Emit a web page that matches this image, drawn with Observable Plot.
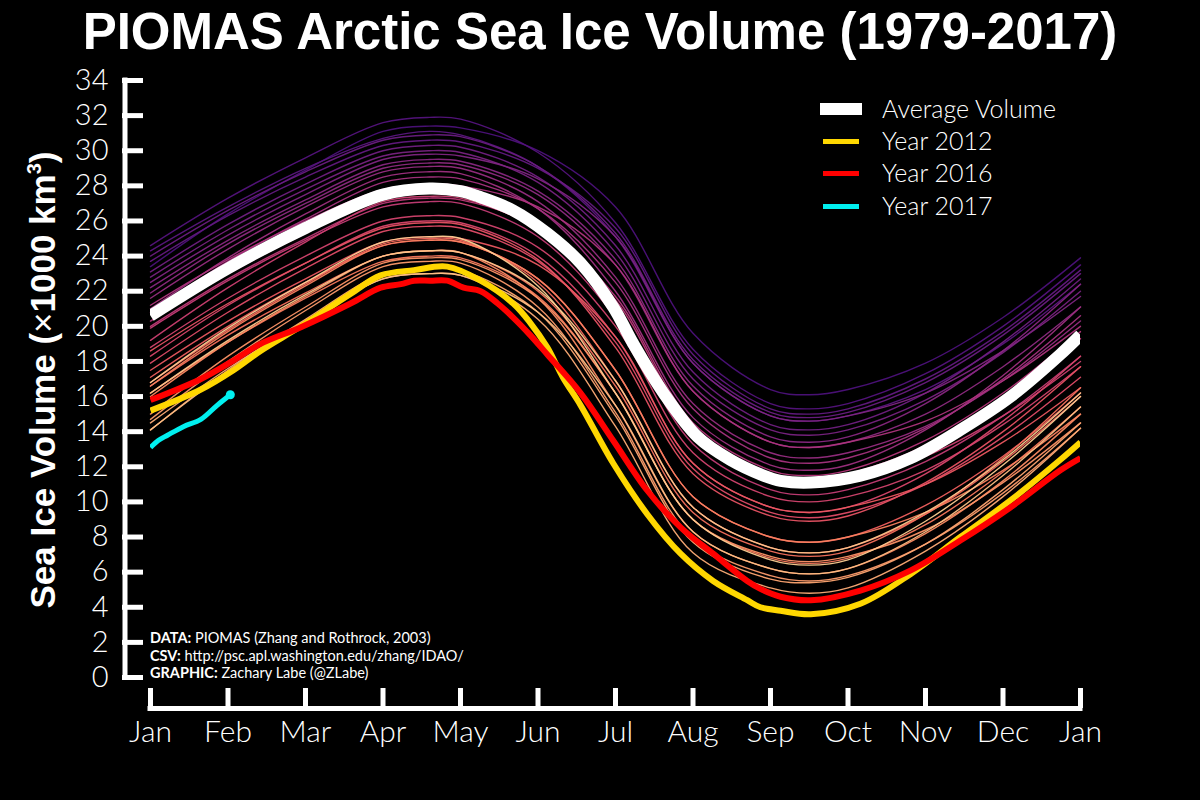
<!DOCTYPE html>
<html>
<head>
<meta charset="utf-8">
<script src="https://cdn.jsdelivr.net/npm/d3@7"></script>
<script src="https://cdn.jsdelivr.net/npm/@observablehq/plot@0.6"></script>
<style>
  html, body { margin: 0; padding: 0; background: #000; }
  #wrap { position: relative; width: 1200px; height: 800px; background: #000; overflow: hidden; color: #fff; font-family: Lato, "Open Sans", sans-serif; }
  #chart { position: absolute; left: 0; top: 0; }
  #title { position: absolute; left: 0; top: 12px; width: 1200px; text-align: center; font-family: "Liberation Sans", Arial, sans-serif; font-weight: bold; font-size: 51px; line-height: 40px; white-space: nowrap; }
  #ylabel { position: absolute; left: 42px; top: 380px; transform: translate(-50%, -50%) rotate(-90deg); font-family: "Liberation Sans", Arial, sans-serif; font-weight: bold; font-size: 35px; line-height: 35px; white-space: nowrap; }
  #ylabel .x { font-weight: normal; }
  .leg { position: absolute; left: 0; top: 0; font-size: 25px; font-weight: 300; white-space: nowrap; }
  .sw { position: absolute; }
  .lt { position: absolute; left: 882px; line-height: 25px; }
  #credits { position: absolute; left: 150px; top: 629px; font-size: 14.5px; line-height: 17.5px; white-space: nowrap; }
  #credits b { font-weight: 700; }
</style>
</head>
<body>
<div id="wrap">
  <div id="chart"></div>
  <div id="title"></div>
  <div id="ylabel"></div>
  <div id="legend"></div>
  <div id="credits"></div>
</div>
<script>
// ---------------- DATA ----------------
const titleText = "PIOMAS Arctic Sea Ice Volume (1979-2017)";
const monthLabels = ["Jan","Feb","Mar","Apr","May","Jun","Jul","Aug","Sep","Oct","Nov","Dec","Jan"];
const monthTicks = [0,1,2,3,4,5,6,7,8,9,10,11,12];
const yTicks = [0,2,4,6,8,10,12,14,16,18,20,22,24,26,28,30,32,34];

// months since Jan 1 at which the yearly values are read
const knotMonths = [0,1,2,3,3.6,4,5,6,7,8,8.5,9,10,11,12];

const y1979 = [23.4,26.4,28.9,31.1,31.4,31.3,30.0,26.8,19.6,16.4,16.1,16.4,17.9,20.5,23.9];
const y1980 = [24.6,27.3,29.6,31.6,31.9,31.8,29.9,25.9,18.7,15.6,15.3,15.6,17.3,20.0,23.5];
const y1981 = [24.3,26.8,29.0,30.7,31.1,30.9,29.1,25.1,17.9,14.9,14.6,14.9,16.4,19.0,22.4];
const y1982 = [23.7,26.3,28.5,30.3,30.6,30.5,29.0,25.6,18.4,15.3,15.0,15.3,17.0,19.7,23.2];
const y1983 = [24.0,26.6,28.8,30.6,30.9,30.8,29.1,25.3,18.1,15.1,14.8,15.1,16.8,19.5,23.0];
const y1984 = [23.1,25.8,28.1,30.0,30.3,30.2,28.5,24.6,17.4,14.4,14.1,14.4,16.2,19.1,22.7];
const y1985 = [22.8,25.5,27.8,29.7,30.0,29.9,28.2,24.2,17.0,14.1,13.8,14.1,15.8,18.5,22.0];
const y1986 = [22.5,25.2,27.5,29.5,29.8,29.7,28.4,25.1,17.9,14.9,14.6,14.9,16.2,18.6,21.7];
const y1987 = [22.2,24.9,27.2,29.2,29.5,29.4,27.7,23.8,16.6,13.7,13.4,13.7,15.6,18.6,22.4];
const y1988 = [21.9,24.7,27.0,29.0,29.3,29.2,27.5,23.5,16.3,13.4,13.1,13.4,15.0,17.7,21.1];
const y1989 = [21.6,24.4,26.8,28.8,29.1,29.0,27.1,22.8,15.6,12.8,12.5,12.8,14.3,16.9,20.3];
const y1990 = [21.0,23.9,26.4,28.5,28.8,28.7,26.7,22.0,14.8,12.1,11.8,12.1,14.1,17.2,21.1];
const y1991 = [20.8,23.7,26.1,28.2,28.5,28.4,26.7,22.5,15.3,12.5,12.2,12.5,14.2,17.0,20.6];
const y1992 = [21.2,23.8,26.0,27.8,28.1,28.0,26.8,23.5,16.3,13.4,13.1,13.4,14.6,16.9,20.0];
const y1993 = [20.3,23.0,25.3,27.3,27.6,27.5,25.8,21.7,14.5,11.8,11.5,11.8,13.5,16.2,19.7];
const y1994 = [20.0,22.7,25.0,27.0,27.3,27.2,25.6,21.5,14.3,11.6,11.3,11.6,13.2,15.9,19.3];
const y1995 = [19.9,22.6,24.9,26.8,27.1,27.0,25.1,20.5,13.3,10.7,10.4,10.7,12.3,14.9,18.3];
const y1996 = [19.2,22.2,24.8,27.1,27.4,27.3,25.5,21.1,13.9,11.3,11.0,11.3,12.6,14.9,18.0];
const y1997 = [18.8,21.6,24.0,26.0,26.3,26.2,24.5,20.0,12.8,10.3,10.0,10.3,11.8,14.4,17.7];
const y1998 = [18.3,21.2,23.6,25.7,26.0,25.9,24.0,19.4,12.2,9.7,9.4,9.7,11.6,14.6,18.3];
const y1999 = [17.9,20.8,23.3,25.4,25.7,25.6,23.7,19.1,11.9,9.4,9.1,9.4,11.0,13.7,17.1];
const y2000 = [18.6,21.3,23.6,25.6,25.9,25.8,23.8,18.8,11.6,9.2,8.9,9.2,11.1,14.0,17.7];
const y2001 = [17.5,20.3,22.7,24.8,25.1,25.0,23.5,19.4,12.2,9.7,9.4,9.7,11.0,13.4,16.5];
const y2002 = [17.1,20.0,22.5,24.6,24.9,24.8,22.7,17.5,10.3,8.0,7.7,8.0,9.8,12.6,16.2];
const y2003 = [16.8,19.8,22.4,24.7,25.0,24.9,22.5,16.9,9.7,7.4,7.1,7.4,9.3,12.3,16.0];
const y2004 = [16.6,19.5,21.9,24.0,24.3,24.2,22.0,16.6,9.4,7.2,6.9,7.2,9.3,12.5,16.5];
const y2005 = [16.2,19.1,21.6,23.7,24.0,23.9,21.7,16.2,9.0,6.8,6.5,6.8,8.7,11.7,15.4];
const y2006 = [16.6,19.7,22.3,24.6,24.9,24.8,22.7,17.5,10.3,8.0,7.7,8.0,9.4,11.8,15.0];
const y2007 = [16.0,19.1,21.7,24.0,24.3,24.2,21.6,15.5,8.3,6.2,5.9,6.2,8.2,11.2,15.0];
const y2008 = [15.0,18.3,21.1,23.6,23.9,23.8,21.6,16.2,9.0,6.9,6.6,6.9,8.4,11.1,14.5];
const y2009 = [14.7,18.0,20.9,23.4,23.7,23.6,21.1,15.1,7.9,5.8,5.5,5.8,7.6,10.5,14.2];
const y2010 = [14.1,17.5,20.4,23.0,23.3,23.2,20.8,14.9,7.7,5.6,5.4,5.7,7.6,10.7,14.5];
const y2011 = [14.5,17.6,20.3,22.7,23.0,22.9,20.4,14.3,7.1,5.1,4.8,5.1,7.2,10.3,14.2];
const y2013 = [14.1,17.4,20.2,22.7,23.0,22.9,20.8,15.5,8.3,6.2,5.9,6.2,8.3,11.5,15.4];
const y2014 = [16.2,19.2,21.8,24.0,24.3,24.2,22.1,16.9,9.7,7.4,7.1,7.4,9.4,12.4,16.2];
const y2015 = [16.8,19.9,22.5,24.8,25.1,25.0,22.3,16.2,9.0,6.7,6.4,6.7,8.9,12.1,16.0];

const thinSeries = [
  [1979,y1979],[1980,y1980],[1981,y1981],[1982,y1982],[1983,y1983],[1984,y1984],
  [1985,y1985],[1986,y1986],[1987,y1987],[1988,y1988],[1989,y1989],[1990,y1990],
  [1991,y1991],[1992,y1992],[1993,y1993],[1994,y1994],[1995,y1995],[1996,y1996],
  [1997,y1997],[1998,y1998],[1999,y1999],[2000,y2000],[2001,y2001],[2002,y2002],
  [2003,y2003],[2004,y2004],[2005,y2005],[2006,y2006],[2007,y2007],[2008,y2008],
  [2009,y2009],[2010,y2010],[2011,y2011],[2013,y2013],[2014,y2014],[2015,y2015]
];

// Average volume
const avgMonths = [0,1,2,3,3.6,4,4.26,4.68,5.12,5.55,5.97,6.23,6.62,7.06,7.48,7.91,8.13,8.52,9.16,9.81,10.45,11.1,11.74,12];
const avgValues = [20.6,23.3,25.6,27.5,27.85,27.7,27.35,26.6,25.3,23.6,21.1,19.0,16.2,13.7,12.4,11.5,11.2,11.1,11.5,12.5,14.1,16.0,18.4,19.5];

// Year 2012
const m2012 = [0,0.65,1.07,1.42,1.94,2.58,2.97,3.4,3.83,4.26,4.68,4.9,5.12,5.32,5.55,5.97,6.41,6.84,7.26,7.7,7.87,8.13,8.52,9.16,9.81,10.45,11.1,11.74,12];
const v2012 = [15.2,16.4,17.5,18.6,20.0,21.85,22.9,23.2,23.4,22.6,21.3,20.2,18.8,17.1,15.5,12.2,9.3,7.05,5.5,4.4,4.0,3.8,3.6,4.2,5.9,8.0,10.1,12.4,13.4];

// Year 2016
const m2016 = [0,0.65,1.07,1.42,1.94,2.58,2.97,3.23,3.4,3.61,3.83,4.04,4.26,4.48,4.68,4.9,5.12,5.55,5.97,6.41,6.84,7.26,7.7,7.87,8.13,8.52,9.16,9.81,10.45,11.1,11.74,12];
const v2016 = [15.8,17.0,18.05,19.0,19.95,21.3,22.2,22.4,22.6,22.6,22.6,22.2,22.0,21.3,20.5,19.5,18.4,16.2,13.5,10.65,8.55,7.05,5.5,5.05,4.6,4.4,4.95,6.1,7.8,9.7,11.8,12.5];

// Year 2017
const m2017 = [0,0.1,0.22,0.43,0.65,0.86,1.03];
const v2017 = [13.1,13.5,13.8,14.3,14.7,15.5,16.1];

const legendLabels = ["Average Volume","Year 2012","Year 2016","Year 2017"];
const creditLines = [["DATA:"," PIOMAS (Zhang and Rothrock, 2003)"],["CSV:"," http://psc.apl.washington.edu/zhang/IDAO/"],["GRAPHIC:"," Zachary Labe (@ZLabe)"]];

// ---------------- CHART ----------------
const pts = (ms, vs) => ms.map((m, i) => ({m, v: vs[i]}));

const marks = [];
thinSeries.forEach(([yr, vals]) => {
  marks.push(Plot.line(pts(knotMonths, vals), {
    x: "m", y: "v", curve: "catmull-rom",
    stroke: d3.interpolateMagma(0.24 + 0.68 * (yr - 1979) / 37),
    strokeWidth: 1.4, strokeOpacity: 0.95
  }));
});
marks.push(Plot.line(pts(avgMonths, avgValues), {x: "m", y: "v", curve: "catmull-rom", stroke: "white", strokeWidth: 12, strokeLinecap: "butt", clip: true}));
marks.push(Plot.line(pts(m2012, v2012), {x: "m", y: "v", curve: "catmull-rom", stroke: "#ffd700", strokeWidth: 6, strokeLinecap: "butt", clip: true}));
marks.push(Plot.line(pts(m2016, v2016), {x: "m", y: "v", curve: "catmull-rom", stroke: "#ff0000", strokeWidth: 6, strokeLinecap: "butt", clip: true}));
marks.push(Plot.line(pts(m2017, v2017), {x: "m", y: "v", curve: "catmull-rom", stroke: "#00f0f0", strokeWidth: 5, strokeLinecap: "butt", clip: true}));
marks.push(Plot.dot(pts(m2017, v2017).slice(-1), {x: "m", y: "v", r: 4.5, fill: "#00f0f0", stroke: "none"}));

// axes
marks.push(Plot.ruleX([monthTicks[0]], {y1: yTicks[0], y2: yTicks[yTicks.length - 1], dx: -25.5, stroke: "white", strokeWidth: 5, strokeLinecap: "square"}));
marks.push(Plot.ruleY([yTicks[0]], {x1: monthTicks[0], x2: monthTicks[monthTicks.length - 1], dy: 31, stroke: "white", strokeWidth: 5, strokeLinecap: "square"}));
marks.push(Plot.axisY({ticks: yTicks, anchor: "left", tickSize: -21, dx: -28, strokeWidth: 5, stroke: "white", fill: "none", label: null}));
marks.push(Plot.axisY({ticks: yTicks, anchor: "left", tickSize: 0, tickPadding: 42, fontSize: 29, fontWeight: 300, fill: "white", label: null}));
marks.push(Plot.axisX({ticks: monthTicks, anchor: "bottom", tickSize: -20, dy: 31, strokeWidth: 5, stroke: "white", fill: "none", label: null}));
marks.push(Plot.axisX({ticks: monthTicks, anchor: "bottom", tickSize: 0, tickPadding: 43, tickFormat: i => monthLabels[i], fontSize: 30, fontWeight: 300, fill: "white", label: null}));

const chart = Plot.plot({
  width: 1200, height: 800,
  marginLeft: 150, marginRight: 120, marginTop: 80, marginBottom: 123,
  x: {domain: [monthTicks[0], monthTicks[monthTicks.length - 1]]},
  y: {domain: [yTicks[0], yTicks[yTicks.length - 1]]},
  style: {background: "black", color: "white", fontFamily: "Lato, 'Open Sans', sans-serif", overflow: "visible"},
  marks
});
document.getElementById("chart").appendChild(chart);

// title, axis label
document.getElementById("title").textContent = titleText;
document.getElementById("ylabel").innerHTML = 'Sea Ice Volume (<span class="x">\u00d7</span>1000 km<sup style="font-size:20px;line-height:0;vertical-align:14px">3</sup>)';

// legend
const legendStyles = [
  {color: "#ffffff", left: 820, width: 42, h: 12, y: 109},
  {color: "#ffd700", left: 823, width: 36, h: 5, y: 141},
  {color: "#ff0000", left: 823, width: 36, h: 5, y: 173},
  {color: "#00f0f0", left: 823, width: 36, h: 5, y: 206}
];
const legend = document.getElementById("legend");
legendLabels.forEach((lab, i) => {
  const s = legendStyles[i];
  const row = document.createElement("div");
  row.className = "leg";
  const sw = document.createElement("div");
  sw.className = "sw";
  sw.style.cssText = `left:${s.left}px;top:${s.y - s.h / 2}px;width:${s.width}px;height:${s.h}px;background:${s.color}`;
  const t = document.createElement("div");
  t.className = "lt";
  t.style.top = (s.y - 13) + "px";
  t.textContent = lab;
  row.appendChild(sw); row.appendChild(t);
  legend.appendChild(row);
});

// credits
document.getElementById("credits").innerHTML = creditLines.map(([a, b]) => `<div><b>${a}</b>${b}</div>`).join("");
</script>
</body>
</html>
